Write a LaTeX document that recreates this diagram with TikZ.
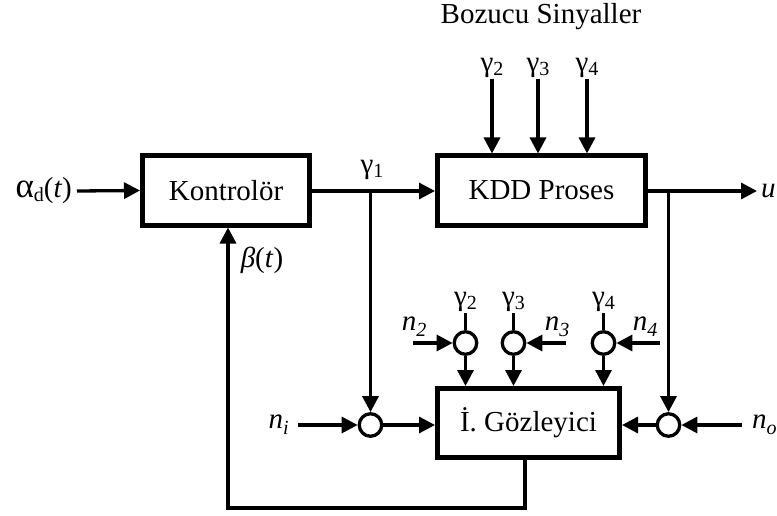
\documentclass[tikz,border=0pt]{standalone}
\usepackage{fontspec}
\setmainfont{Liberation Serif}
\usetikzlibrary{arrows.meta,calc}
\newcommand{\sbx}[1]{\raisebox{-0.3ex}{\fontsize{20}{20}\selectfont #1}}
\newcommand{\sbi}[1]{\raisebox{-0.45ex}{\fontsize{20}{20}\selectfont\itshape #1}}
\begin{document}
\begin{tikzpicture}[x=1pt,y=-1pt,
  blk/.style={draw, line width=5pt, minimum height=69pt, inner sep=0pt, font=\fontsize{29}{31}\selectfont},
  sumc/.style={circle, draw, line width=3.3pt, fill=white, minimum size=22.5pt, inner sep=0pt},
  con/.style={line width=3.3pt, -{Triangle[length=16pt,width=16pt]}},
  ln/.style={line width=3.3pt},
  lbl/.style={font=\fontsize{29}{31}\selectfont, inner sep=0pt}
]
\useasboundingbox (0,0) rectangle (777,516);
% blocks
\node[blk, minimum width=167pt] (kon) at (226,190.5) {Kontrolör};
\node[blk, minimum width=208pt] (kdd) at (541.5,190.5) {KDD Proses};
\node[blk, minimum width=182pt] (obs) at (528.5,423) {İ. Gözleyici};
% summing circles
\node[sumc] (ci) at (370.5,425) {};
\node[sumc] (co) at (668.5,425) {};
\node[sumc] (c2) at (465.5,343) {};
\node[sumc] (c3) at (513.5,343) {};
\node[sumc] (c4) at (603.5,343) {};
% labels
\node[lbl, anchor=east, inner xsep=5pt] (alpha) at (77,191) {{\fontsize{35}{35}\selectfont α}\sbx{d}(\textit{t})};
\node[lbl] (g1) at (372,170) {γ\sbx{1}};
\node[lbl] (boz) at (541,17) {Bozucu Sinyaller};
\node[lbl, anchor=south, inner ysep=1pt] (g2t) at (492,79) {γ\sbx{2}};
\node[lbl, anchor=south, inner ysep=1pt] (g3t) at (538,79) {γ\sbx{3}};
\node[lbl, anchor=south, inner ysep=1pt] (g4t) at (587,79) {γ\sbx{4}};
\node[lbl, anchor=west, inner xsep=4pt] (u) at (757,191) {\textit{u}};
\node[lbl] (beta) at (262,260) {\textit{β}(\textit{t})};
\node[lbl, anchor=east, inner xsep=9pt] (ni) at (298,425) {\textit{n}\sbi{i}};
\node[lbl, anchor=west, inner xsep=10pt] (no) at (742,425) {\textit{n}\sbi{o}};
\node[lbl, anchor=south, inner ysep=1pt] (g2b) at (465.5,313) {γ\sbx{2}};
\node[lbl, anchor=south, inner ysep=1pt] (g3b) at (513.5,313) {γ\sbx{3}};
\node[lbl, anchor=south, inner ysep=1pt] (g4b) at (603.5,313) {γ\sbx{4}};
\node[lbl] (n2) at (414,327) {\textit{n}\sbi{2}};
\node[lbl] (n3) at (557,327) {\textit{n}\sbi{3}};
\node[lbl] (n4) at (645,327) {\textit{n}\sbi{4}};
% free coordinates
\coordinate (b1) at (370.5,191);
\coordinate (b2) at (668.5,191);
\coordinate (a2) at (413,343);
\coordinate (a3) at (566,343);
\coordinate (a4) at (660,343);
\coordinate (fb1) at (525,508);
\coordinate (fb2) at (228,508);
% connectors
\draw[con] (alpha.east) -- (kon.west);
\draw[con] (kon.east |- b1) -- (kdd.west |- b1);
\draw[con] (kdd.east |- b2) -- (u.west);
\draw[con] (b1) -- (ci.north);
\draw[con] (b2) -- (co.north);
\draw[con] (g2t.south) -- (g2t.south |- kdd.north);
\draw[con] (g3t.south) -- (g3t.south |- kdd.north);
\draw[con] (g4t.south) -- (g4t.south |- kdd.north);
\draw[con] (ni.east) -- (ci.west);
\draw[con] (ci.east) -- (obs.west |- ci);
\draw[con] (no.west) -- (co.east);
\draw[con] (co.west) -- (obs.east |- co);
\draw[ln] (g2b.south) -- (c2.north);
\draw[ln] (g3b.south) -- (c3.north);
\draw[ln] (g4b.south) -- (c4.north);
\draw[con] (a2) -- (c2.west);
\draw[con] (a3) -- (c3.east);
\draw[con] (a4) -- (c4.east);
\draw[con] (c2.south) -- (c2.south |- obs.north);
\draw[con] (c3.south) -- (c3.south |- obs.north);
\draw[con] (c4.south) -- (c4.south |- obs.north);
\draw[ln, -{Triangle[length=16pt,width=16pt]}] (obs.south -| fb1) -- (fb1) -- (fb2) -- (fb2 |- kon.south);
\end{tikzpicture}
\end{document}
